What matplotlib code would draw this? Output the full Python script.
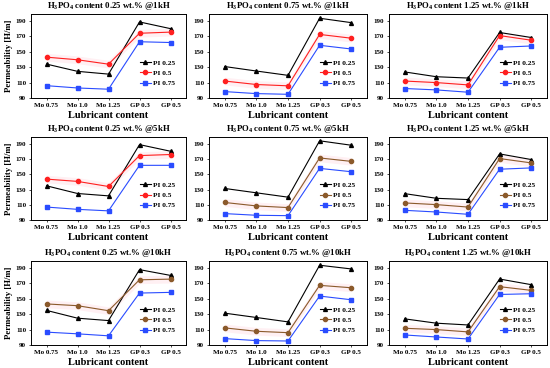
import numpy as np
import matplotlib
matplotlib.use('Agg')
import matplotlib.pyplot as plt

plt.rcParams['font.family'] = ['Liberation Serif', 'DejaVu Serif']
plt.rcParams['font.weight'] = 'bold'

categories = ['Mo 0.75', 'Mo 1.0', 'Mo 1.25', 'GP 0.3', 'GP 0.5']
h3po4 = ['0.25', '0.75', '1.25']
freqs = ['1kH', '5kH', '10kH']
labels = ['PI 0.25', 'PI 0.5', 'PI 0.75']

# permeability values per panel (row = frequency, col = H3PO4 content)
pi025 = [
    [[134, 124.6, 121, 188.7, 180], [130.8, 125, 119.4, 193.5, 187.8], [123.8, 117.6, 115.9, 175, 168.5]],
    [[134.9, 124.8, 121.7, 189, 180.3], [131.4, 125.7, 120, 194, 188.2], [124.6, 118.5, 116.8, 176.8, 169.4]],
    [[134.9, 124.8, 121.7, 187.8, 180.3], [131.3, 125.7, 120, 193.5, 188.7], [123.9, 118.3, 116, 175.6, 168.3]],
]
pi05 = [
    [[143, 139.6, 133.9, 174, 175.5], [112, 107.5, 105.8, 172.5, 167.6], [112, 110, 107, 171, 165]],
    [[143.7, 140.7, 134, 174.6, 176], [113, 108.5, 106.3, 171.5, 167], [112.4, 110.2, 107, 170.7, 165]],
    [[143.3, 141, 134.5, 174.6, 175.5], [112.2, 107.8, 106, 167.4, 164.3], [111.7, 110, 107, 165.7, 160.9]],
]
pi075 = [
    [[106, 103, 101.4, 163, 162], [98.3, 95.7, 94.8, 158.4, 153.6], [102.3, 100.5, 97.5, 155.8, 157.5]],
    [[107, 104, 102, 161.8, 161.8], [98.4, 96.2, 95.7, 157.8, 153.4], [102.7, 100.5, 97.5, 156.7, 158.4]],
    [[106.7, 104.5, 101.9, 157.4, 158.3], [98.3, 95.7, 95.2, 153.5, 148.7], [103, 100.4, 97.8, 155.6, 156.5]],
]

red = '#ff2020'
brown = '#8b5a2b'
blue = '#2a4cff'
pi05_colors = [[red, red, red], [red, brown, brown], [brown, brown, brown]]

fig = plt.figure(figsize=(5.5, 3.68), dpi=100)
W, H = 550, 368
col_x = [(31, 186), (209, 367), (389, 547)]
row_y = [(14, 98), (137, 220), (261, 345)]

x = np.arange(len(categories))
for r in range(3):
    for c in range(3):
        x0, x1 = col_x[c]
        y0, y1 = row_y[r]
        ax = fig.add_axes([x0 / W, 1 - y1 / H, (x1 - x0) / W, (y1 - y0) / H])
        p5 = np.array(pi05[r][c])
        # faint band behind the PI 0.5 series
        ax.fill_between(x, p5 - 5, p5 + 5, color='#fff0f3', lw=0)
        ax.plot(x, pi025[r][c], color='black', marker='^', ms=2.8, lw=0.8, label=labels[0])
        ax.plot(x, p5, color=pi05_colors[r][c], marker='o', ms=3, lw=0.8, label=labels[1])
        ax.plot(x, pi075[r][c], color=blue, marker='s', ms=3, lw=0.8, label=labels[2])
        ax.set_xlim(-0.5, 4.5)
        ax.set_ylim(90, 199)
        ax.set_yticks(range(90, 191, 20))
        ax.set_xticks(x)
        ax.set_xticklabels(categories)
        ax.tick_params(labelsize=5, length=1.5, width=0.5, pad=2)
        for s in ax.spines.values():
            s.set_linewidth(0.7)
        ax.set_title('H$_\\mathregular{3}$PO$_\\mathregular{4}$ content %s wt.%% @%s' % (h3po4[c], freqs[r]),
                     fontsize=6.3, fontweight='bold', pad=4)
        ax.set_xlabel('Lubricant content', fontsize=7.5, fontweight='bold', labelpad=2)
        if c == 0:
            ax.set_ylabel('Permeability [H/m]', fontsize=6.3, fontweight='bold', labelpad=2)
        ax.legend(loc='center left', bbox_to_anchor=(0.66, 0.3), frameon=False,
                  handlelength=1.5, handletextpad=0.3, labelspacing=0.55,
                  prop={'weight': 'bold', 'size': 5.3})

fig.savefig('out.png', dpi=100)
